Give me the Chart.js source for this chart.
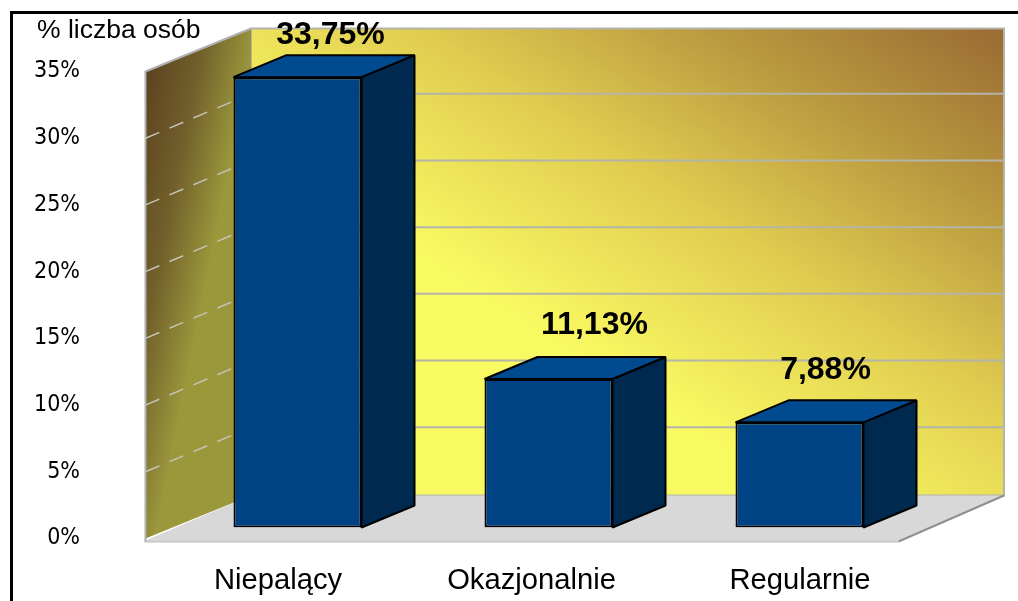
<!DOCTYPE html>
<html><head><meta charset="utf-8">
<style>html,body{margin:0;padding:0;background:#fff}canvas{display:block}</style>
<script src="https://cdn.jsdelivr.net/npm/chart.js@4"></script>
</head><body>
<canvas id="c" width="1018" height="601"></canvas>
<script>
const categories = ["Niepalący", "Okazjonalnie", "Regularnie"];
const values = [33.75, 11.13, 7.88];
const valueLabels = ["33,75%", "11,13%", "7,88%"];
const yTicks = [0, 5, 10, 15, 20, 25, 30, 35];
const axisCaption = "% liczba osób";

const DEPTH_X = 105.5, DEPTH_Y = 43;      // full floor depth
const BAR_DX = 53, BAR_DY = 22;           // bar depth
const FRONT_X = -26.5, FRONT_Y = 11;      // offset from the bar plane to the front edge
const catLabelShift = [-19.5, -17, 0.5];
const valLabelShift = [[33, -42], [46, -54], [26, -52]];

const scene = {
  id: "scene",
  beforeDatasetsDraw(chart) {
    const { ctx, scales: { x, y } } = chart;
    const left = x.left + FRONT_X;
    const fx = left, bx = left + DEPTH_X;
    const frontY = v => y.getPixelForValue(v) + FRONT_Y;
    const backY = v => y.getPixelForValue(v) + FRONT_Y - DEPTH_Y;
    const W = x.right - x.left;
    ctx.save();
    ctx.fillStyle = "#000";
    ctx.fillRect(10, 11, 1008, 3);
    ctx.fillRect(10, 11, 3, 590);
    const bg = ctx.createLinearGradient(bx + W, backY(35), bx + W - 285, backY(35) + 445);
    bg.addColorStop(0, "#9a6a33");
    bg.addColorStop(0.3, "#b9993f");
    bg.addColorStop(0.6, "#e0cc50");
    bg.addColorStop(0.95, "#f9f962");
    ctx.fillStyle = bg;
    ctx.fillRect(bx, backY(35), W, backY(0) - backY(35));
    ctx.strokeStyle = "#b4b4a8"; ctx.lineWidth = 2;
    ctx.strokeRect(bx, backY(35), W, backY(0) - backY(35));
    yTicks.slice(1, -1).forEach(v => {
      ctx.beginPath(); ctx.moveTo(bx, backY(v) - 1.5); ctx.lineTo(bx + W, backY(v) - 1.5); ctx.stroke();
    });
    ctx.fillStyle = "#d8d8d8";
    ctx.beginPath();
    ctx.moveTo(fx, frontY(0) + 2); ctx.lineTo(fx + W, frontY(0) + 2);
    ctx.lineTo(bx + W, backY(0)); ctx.lineTo(bx, backY(0));
    ctx.closePath(); ctx.fill();
    ctx.strokeStyle = "#c4c4c4"; ctx.lineWidth = 2;
    ctx.beginPath(); ctx.moveTo(fx - 1, frontY(0) + 3); ctx.lineTo(fx + W, frontY(0) + 3); ctx.stroke();
    ctx.strokeStyle = "#8f8f8f";
    ctx.beginPath(); ctx.moveTo(fx + W, frontY(0) + 3); ctx.lineTo(bx + W, backY(0)); ctx.stroke();
    const lg = ctx.createLinearGradient(fx, frontY(35), fx + 100, frontY(35) + 20);
    lg.addColorStop(0, "#5c4220");
    lg.addColorStop(0.5, "#72602b");
    lg.addColorStop(1, "#9b983c");
    ctx.fillStyle = lg;
    ctx.beginPath();
    ctx.moveTo(fx, frontY(35)); ctx.lineTo(bx, backY(35));
    ctx.lineTo(bx, backY(0)); ctx.lineTo(fx, frontY(0));
    ctx.closePath(); ctx.fill();
    ctx.strokeStyle = "#b0b0b0"; ctx.lineWidth = 2;
    ctx.beginPath(); ctx.moveTo(fx, frontY(0) + 3); ctx.lineTo(fx, frontY(35)); ctx.lineTo(bx, backY(35)); ctx.stroke();
    ctx.strokeStyle = "#c4c4b8"; ctx.lineWidth = 1.5; ctx.setLineDash([15, 11]);
    yTicks.slice(1, -1).forEach(v => {
      ctx.beginPath(); ctx.moveTo(fx, frontY(v)); ctx.lineTo(bx, backY(v) - 1.5); ctx.stroke();
    });
    ctx.setLineDash([]);
    chart.getDatasetMeta(0).data.forEach(bar => {
      const l = bar.x - bar.width / 2, r = bar.x + bar.width / 2, t = bar.y, b = bar.base;
      ctx.lineWidth = 2; ctx.strokeStyle = "#000"; ctx.lineJoin = "bevel";
      ctx.fillStyle = "#00294f";
      ctx.beginPath();
      ctx.moveTo(r, t); ctx.lineTo(r + BAR_DX, t - BAR_DY); ctx.lineTo(r + BAR_DX, b - BAR_DY); ctx.lineTo(r, b);
      ctx.closePath(); ctx.fill(); ctx.stroke();
      ctx.fillStyle = "#004a8f";
      ctx.beginPath();
      ctx.moveTo(l, t); ctx.lineTo(l + BAR_DX, t - BAR_DY); ctx.lineTo(r + BAR_DX, t - BAR_DY); ctx.lineTo(r, t);
      ctx.closePath(); ctx.fill(); ctx.stroke();
    });
    ctx.restore();
  },
  afterDatasetsDraw(chart) {
    const { ctx, scales: { x } } = chart;
    ctx.save();
    ctx.fillStyle = "#000";
    ctx.textAlign = "center"; ctx.textBaseline = "middle";
    ctx.font = "bold 32px 'Liberation Sans'";
    chart.getDatasetMeta(0).data.forEach((bar, i) => {
      ctx.fillText(valueLabels[i], bar.x + valLabelShift[i][0], bar.y + valLabelShift[i][1]);
    });
    ctx.font = "29.2px 'Liberation Sans'";
    categories.forEach((c, i) => {
      ctx.fillText(c, x.getPixelForValue(i) + catLabelShift[i], 581);
    });
    ctx.textAlign = "left";
    ctx.font = "26.5px 'Liberation Sans'";
    ctx.fillText(axisCaption, 37, 31);
    ctx.restore();
  }
};

new Chart(document.getElementById("c"), {
  type: "bar",
  data: {
    labels: categories,
    datasets: [{
      data: values,
      backgroundColor: "#004385",
      borderColor: "#000",
      borderWidth: 2,
      borderSkipped: false,
      barPercentage: 0.51,
      categoryPercentage: 1
    }]
  },
  plugins: [scene],
  options: {
    responsive: false,
    animation: false,
    events: [],
    layout: { autoPadding: false, padding: { left: 0, right: 93, top: 60.5, bottom: 0 } },
    plugins: { legend: { display: false }, title: { display: false }, tooltip: { enabled: false } },
    scales: {
      x: {
        grid: { display: false }, border: { display: false },
        ticks: { display: false },
        afterFit(s) { s.height = 73.5; }
      },
      y: {
        min: 0, max: 35,
        afterBuildTicks(s) { s.ticks = yTicks.map(v => ({ value: v })); },
        afterFit(s) { s.width = 172; },
        grid: { display: false, drawTicks: true, tickLength: 92 }, border: { display: false },
        ticks: {
          callback: v => v + "%",
          color: "#000",
          font: { family: "'DejaVu Sans Condensed','DejaVu Sans'", size: 23 },
          padding: 0,
          labelOffset: 11
        }
      }
    }
  }
});
</script>
</body></html>
